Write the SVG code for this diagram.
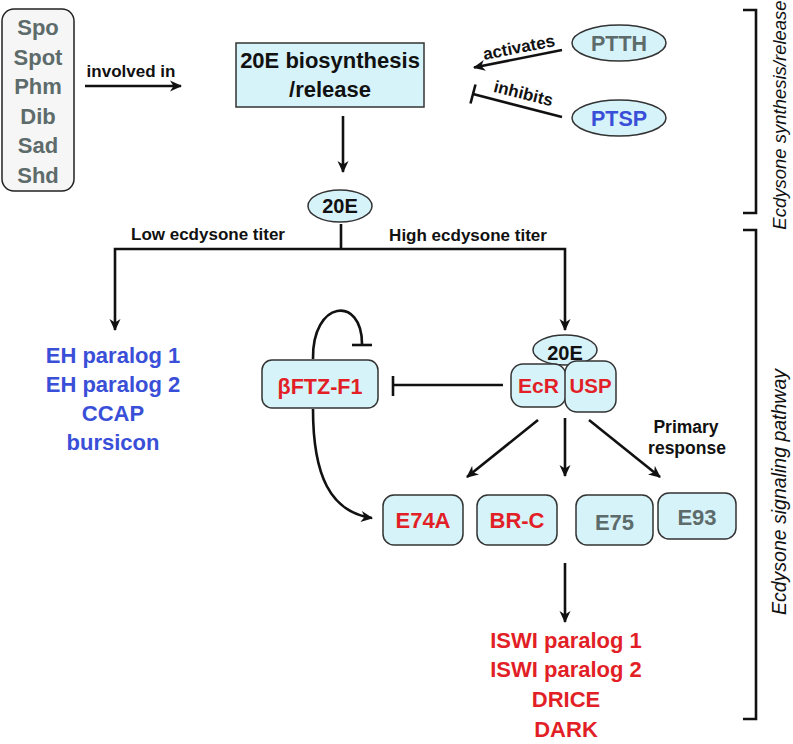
<svg xmlns="http://www.w3.org/2000/svg" width="793" height="744" viewBox="0 0 793 744">
<style>
text{font-family:"Liberation Sans",Arial,sans-serif;font-weight:bold;text-anchor:middle}
.box{fill:#d6f3fa;stroke:#333;stroke-width:1.5}
.gray{fill:#5d6b6b}
.blue{fill:#3a4fd8}
.red{fill:#e21f26}
.blk{fill:#111}
.ln{fill:none;stroke:#111;stroke-width:2.6}
.side{font-weight:normal;font-style:italic;fill:#111}
</style>
<defs>
<marker id="ah" markerUnits="userSpaceOnUse" markerWidth="13" markerHeight="12" refX="11" refY="6" orient="auto">
<path d="M0,0.5 L12,6 L0,11.5 L3.5,6 z" fill="#111"/>
</marker>
</defs>
<rect width="793" height="744" fill="#fff"/>

<g id="genes">
<rect x="2" y="9" width="72" height="182" rx="12" fill="#f6f6f6" stroke="#222" stroke-width="1.5"/>
<text x="38" y="35" font-size="22" class="gray">Spo</text>
<text x="38" y="64.5" font-size="22" class="gray">Spot</text>
<text x="38" y="94" font-size="22" class="gray">Phm</text>
<text x="38" y="123.5" font-size="22" class="gray">Dib</text>
<text x="38" y="153" font-size="22" class="gray">Sad</text>
<text x="38" y="182.5" font-size="22" class="gray">Shd</text>
</g>

<g id="biosynthesis">
<rect x="236" y="43" width="188" height="64" class="box"/>
<text x="330" y="68" font-size="22" class="blk">20E biosynthesis</text>
<text x="330" y="97" font-size="22" class="blk">/release</text>
</g>

<g id="ptth">
<ellipse cx="619" cy="43" rx="47" ry="18" class="box"/>
<text x="619" y="51" font-size="21.5" class="gray">PTTH</text>
</g>
<g id="ptsp">
<ellipse cx="619" cy="118" rx="47" ry="18" class="box"/>
<text x="619" y="126" font-size="21.5" class="blue">PTSP</text>
</g>

<g id="e20">
<ellipse cx="340" cy="206" rx="32" ry="16" class="box"/>
<text x="340" y="213" font-size="20" class="blk">20E</text>
</g>

<g id="lowtargets">
<text x="113" y="363" font-size="22" class="blue">EH paralog 1</text>
<text x="113" y="392" font-size="22" class="blue">EH paralog 2</text>
<text x="113" y="421" font-size="22" class="blue">CCAP</text>
<text x="113" y="450" font-size="22" class="blue">bursicon</text>
</g>

<g id="ftzf1">
<rect x="262" y="360" width="116" height="48" rx="10" class="box"/>
<text x="320" y="394" font-size="21.5" class="red">βFTZ-F1</text>
</g>

<g id="complex">
<ellipse cx="565" cy="350" rx="32" ry="15" class="box"/>
<rect x="511" y="364" width="55" height="43" rx="12" class="box"/>
<text x="538.5" y="393" font-size="21" class="red">EcR</text>
<rect x="565" y="361" width="51" height="51" rx="12" class="box"/>
<text x="590.5" y="393" font-size="20.5" class="red">USP</text>
<text x="565" y="360" font-size="20" class="blk">20E</text>
</g>

<g id="e74a">
<rect x="383" y="495" width="80" height="50" rx="11" class="box"/>
<text x="423" y="528" font-size="22" class="red">E74A</text>
</g>
<g id="brc">
<rect x="477" y="495" width="80" height="50" rx="11" class="box"/>
<text x="517" y="528" font-size="22" class="red">BR-C</text>
</g>
<g id="e75">
<rect x="576" y="495" width="77" height="50" rx="11" class="box"/>
<text x="614.5" y="530" font-size="22" class="gray">E75</text>
</g>
<g id="e93">
<rect x="658" y="493" width="78" height="46" rx="11" class="box"/>
<text x="697" y="525" font-size="22" class="gray">E93</text>
</g>

<g id="downstream">
<text x="566" y="648" font-size="22" class="red">ISWI paralog 1</text>
<text x="566" y="677" font-size="22" class="red">ISWI paralog 2</text>
<text x="566" y="707" font-size="22" class="red">DRICE</text>
<text x="566" y="737" font-size="22" class="red">DARK</text>
</g>

<g id="connectors">
<path class="ln" d="M85,86 L181,86" marker-end="url(#ah)"/>
<text x="131" y="77" font-size="17" class="blk">involved in</text>

<path class="ln" d="M562,50 L474,67.5" marker-end="url(#ah)"/>
<text x="520" y="53" font-size="17" class="blk" transform="rotate(-11 520 53)">activates</text>
<path class="ln" d="M562,117 L473,94"/>
<path class="ln" d="M475.5,84.5 L470.5,103.5"/>
<text x="522" y="99" font-size="17" class="blk" transform="rotate(14 522 99)">inhibits</text>

<path class="ln" d="M343,116 L343,172" marker-end="url(#ah)"/>
<path class="ln" d="M341,224 L341,249"/>
<path class="ln" d="M341,249 L115,249 L115,330" marker-end="url(#ah)"/>
<path class="ln" d="M341,249 L565,249 L565,330" marker-end="url(#ah)"/>
<text x="208" y="240" font-size="17" class="blk">Low ecdysone titer</text>
<text x="468" y="241" font-size="17" class="blk">High ecdysone titer</text>

<path class="ln" d="M503,385 L393,385"/>
<path class="ln" d="M393,376 L393,396"/>
<path class="ln" d="M313,359 C312,300 362,295 362,344"/>
<path class="ln" d="M352,345 L372,345"/>
<path class="ln" d="M313,409 C313,475 330,512 372,518" marker-end="url(#ah)"/>

<path class="ln" d="M538,420 L467,477" marker-end="url(#ah)"/>
<path class="ln" d="M565,418 L565,476" marker-end="url(#ah)"/>
<path class="ln" d="M589,420 L660,477" marker-end="url(#ah)"/>
<text x="686" y="433" font-size="17.5" class="blk">Primary</text>
<text x="687" y="454" font-size="17.5" class="blk">response</text>

<path class="ln" d="M565,563 L565,622" marker-end="url(#ah)"/>

<path class="ln" d="M743,10 L756,10 L756,213 L743,213"/>
<path class="ln" d="M743,230 L756,230 L756,719 L743,719"/>
<text class="side" x="0" y="0" font-size="18.5" transform="translate(786 115) rotate(-90)">Ecdysone synthesis/release</text>
<text class="side" x="0" y="0" font-size="19.5" transform="translate(786 492) rotate(-90)">Ecdysone signaling pathway</text>
</g>
</svg>
